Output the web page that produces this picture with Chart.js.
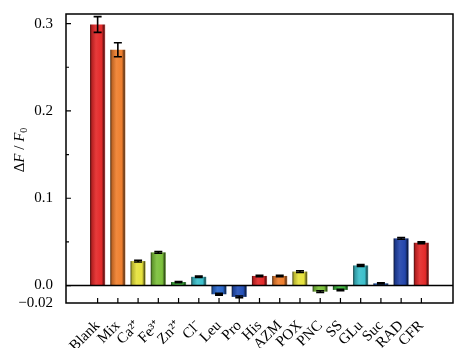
<!DOCTYPE html>
<html>
<head>
<meta charset="utf-8">
<script src="https://cdn.jsdelivr.net/npm/chart.js@4"></script>
<style>
  body { margin:0; background:#fff; }
</style>
</head>
<body>
<canvas id="chart" width="462" height="348"></canvas>
<script>
// DATA
const categories = ["Blank","Mix","Ca²⁺","Fe³⁺","Zn²⁺","Cl⁻","Leu","Pro","His","AZM","POX","PNC","SS","GLu","Suc","RAD","CFR"];
const values = [0.299,0.270,0.028,0.038,0.004,0.010,-0.010,-0.013,0.011,0.011,0.016,-0.007,-0.005,0.023,0.0025,0.054,0.049];
const errors = [0.009,0.008,0.001,0.001,0.0007,0.0008,0.001,0.001,0.0008,0.0008,0.001,0.001,0.0008,0.001,0.0007,0.001,0.001];
const yMajor = [-0.02,0,0.1,0.2,0.3];
const yMinor = [0.05,0.15,0.25];

const barColors = ["#e42a2a","#ef7f2e","#e6e23c","#7cc13b","#3fb43e","#3cc0cc","#2a68cc","#2450b8",
  "#e42a2a","#ef7f2e","#e6e23c","#7cc13b","#3fb43e","#3cc0cc","#2a68cc","#2446ac","#e42a2a"];

const FONT = "'Liberation Serif', 'Times New Roman', serif";

function shade(hex, f){
  let n=parseInt(hex.slice(1),16);
  let r=n>>16,g=(n>>8)&255,b=n&255;
  if(f<0){ r*=1+f; g*=1+f; b*=1+f; }
  else { r+=(255-r)*f; g+=(255-g)*f; b+=(255-b)*f; }
  return `rgb(${r|0},${g|0},${b|0})`;
}

function barFill(c){
  const chart=c.chart;
  const col=barColors[c.dataIndex];
  if(!chart.chartArea || !chart.scales.x) return col;
  const xc=chart.scales.x.getPixelForValue(c.dataIndex);
  const g=chart.ctx.createLinearGradient(xc-8,0,xc+8,0);
  g.addColorStop(0,shade(col,-0.8));
  g.addColorStop(0.14,shade(col,-0.2));
  g.addColorStop(0.4,shade(col,0.08));
  g.addColorStop(0.75,col);
  g.addColorStop(0.9,shade(col,-0.6));
  g.addColorStop(1,shade(col,0.4));
  return g;
}

const decor = {
  id:'decor',
  beforeDraw(chart){
    const c=chart.ctx;
    c.save(); c.fillStyle='#fff'; c.fillRect(0,0,chart.width,chart.height); c.restore();
  },
  afterDatasetsDraw(chart){
    const c=chart.ctx, a=chart.chartArea, xs=chart.scales.x, ys=chart.scales.y;
    c.save();
    c.strokeStyle='#000';
    // error bars
    c.lineWidth=1.6;
    values.forEach((v,i)=>{
      const x=xs.getPixelForValue(i);
      const t=ys.getPixelForValue(v+errors[i]), b=ys.getPixelForValue(v-errors[i]);
      c.beginPath();
      c.moveTo(x,t); c.lineTo(x,b);
      c.moveTo(x-4,t); c.lineTo(x+4,t);
      c.moveTo(x-4,b); c.lineTo(x+4,b);
      c.stroke();
    });
    // zero line
    const y0=ys.getPixelForValue(0);
    c.lineWidth=1.5;
    c.beginPath(); c.moveTo(a.left,y0); c.lineTo(a.right,y0); c.stroke();
    // frame
    c.strokeRect(a.left,a.top,a.right-a.left,a.bottom-a.top);
    // ticks
    c.lineWidth=1.2;
    c.beginPath();
    yMajor.forEach(v=>{ if(v<=ys.min) return; const y=ys.getPixelForValue(v); c.moveTo(a.left,y); c.lineTo(a.left+5,y); });
    yMinor.forEach(v=>{ const y=ys.getPixelForValue(v); c.moveTo(a.left,y); c.lineTo(a.left+3,y); });
    categories.forEach((n,i)=>{ const x=xs.getPixelForValue(i); c.moveTo(x,a.bottom); c.lineTo(x,a.bottom-5); });
    c.stroke();
    // y title: ΔF / F0
    c.translate(20,150);
    c.rotate(-Math.PI/2);
    c.fillStyle='#000';
    c.textBaseline='middle';
    const segs=[["Δ","15px "+FONT,0],["F","italic 15px "+FONT,0],[" / ","15px "+FONT,0],["F","italic 15px "+FONT,0],["0","10px "+FONT,4]];
    let w=0;
    segs.forEach(s=>{ c.font=s[1]; w+=c.measureText(s[0]).width; });
    let x=-w/2;
    segs.forEach(s=>{ c.font=s[1]; c.fillText(s[0],x,s[2]); x+=c.measureText(s[0]).width; });
    c.restore();
  }
};

new Chart(document.getElementById('chart'),{
  type:'bar',
  data:{
    datasets:[{
      data:values.map((v,i)=>({x:i,y:v})),
      backgroundColor:barFill,
      borderWidth:0,
      barPercentage:0.75,
      categoryPercentage:1
    }]
  },
  options:{
    responsive:false,
    animation:false,
    layout:{padding:{top:7,right:9,left:0,bottom:0}},
    plugins:{legend:{display:false},tooltip:{enabled:false}},
    scales:{
      x:{
        type:'linear',
        min:-1,max:17,
        afterBuildTicks:s=>{ s.ticks=categories.map((n,i)=>({value:i})); },
        afterFit:s=>{ s.height=45; },
        grid:{display:false},
        border:{display:false},
        ticks:{
          autoSkip:false,
          minRotation:45,maxRotation:45,
          padding:6,
          color:'#000',
          font:{family:FONT,size:15},
          callback:v=>categories[v]
        }
      },
      y:{
        min:-0.02,max:0.311,
        afterBuildTicks:s=>{ s.ticks=yMajor.map(v=>({value:v})); },
        afterFit:s=>{ s.width=66; },
        grid:{display:false},
        border:{display:false},
        ticks:{
          padding:5,
          color:'#000',
          font:{family:FONT,size:15},
          callback:v=>v===-0.02 ? '−0.02' : v.toFixed(1)
        }
      }
    }
  },
  plugins:[decor]
});
</script>
</body>
</html>
